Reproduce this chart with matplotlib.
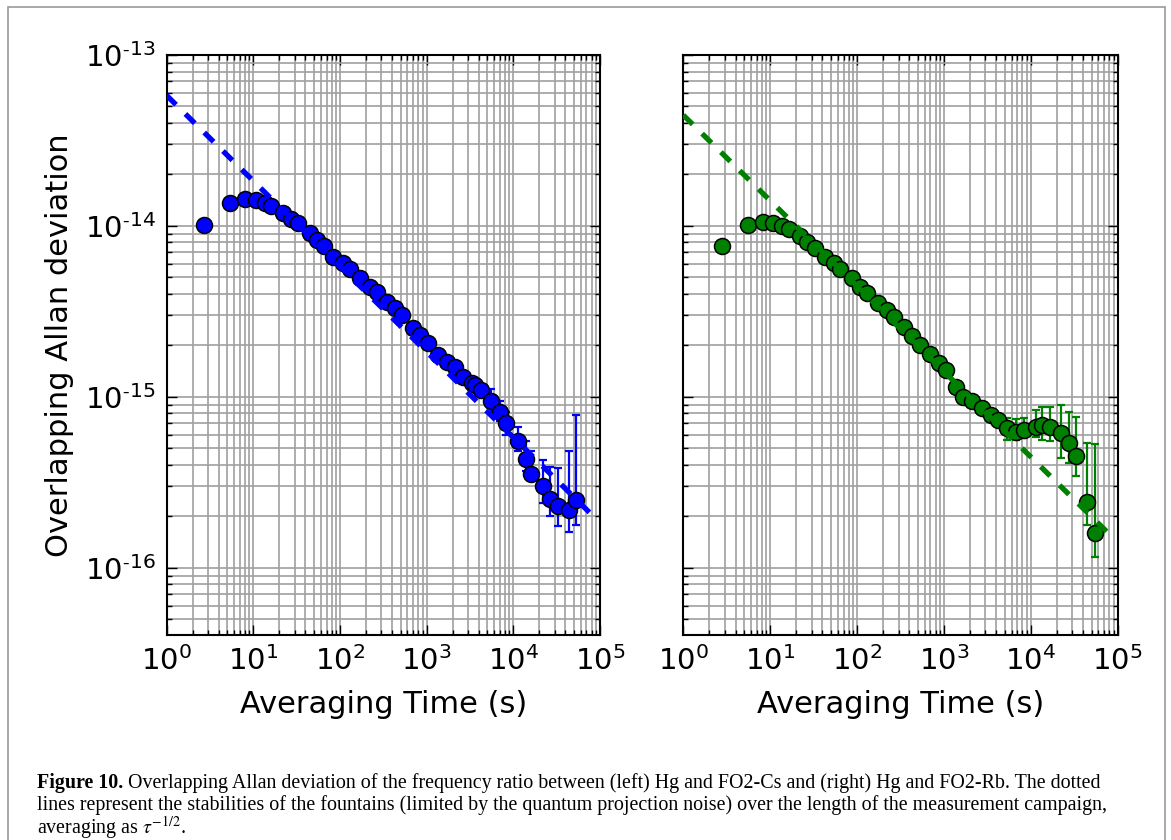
import matplotlib
matplotlib.use("Agg")
import numpy as np
import matplotlib.pyplot as plt
import matplotlib.ticker as mticker
from matplotlib.patches import Rectangle

# Left panel: Hg / FO2-Cs
tau_cs = [2.7, 5.4, 8.1, 10.8, 13.5, 16.2, 22, 27, 33, 45, 54, 65, 83, 108, 130, 170,
          220, 265, 345, 430, 515, 700, 835, 1040, 1350, 1700, 2100, 2630, 3300, 3600,
          4300, 5600, 6990, 8350, 11200, 13900, 16200, 22100, 26400, 32900, 44000, 53600]
adev_cs = [1.01e-14, 1.37e-14, 1.43e-14, 1.42e-14, 1.37e-14, 1.31e-14, 1.19e-14, 1.10e-14,
           1.04e-14, 9.1e-15, 8.3e-15, 7.6e-15, 6.6e-15, 6.05e-15, 5.6e-15, 4.95e-15,
           4.4e-15, 4.1e-15, 3.6e-15, 3.3e-15, 3.0e-15, 2.52e-15, 2.3e-15, 2.06e-15,
           1.76e-15, 1.61e-15, 1.50e-15, 1.31e-15, 1.20e-15, 1.175e-15, 1.10e-15, 9.4e-16,
           8.2e-16, 7.0e-16, 5.5e-16, 4.33e-16, 3.55e-16, 2.99e-16, 2.52e-16, 2.29e-16,
           2.18e-16, 2.48e-16]
# error bar bounds for the long-tau points
err_tau_cs = [5600, 6990, 8350, 11200, 13900, 16200, 22100, 26400, 32900, 44000, 53600]
err_hi_cs = [1.11e-15, 9.4e-16, 8.2e-16, 6.65e-16, 5.53e-16, 4.79e-16, 4.28e-16, 3.88e-16,
             3.86e-16, 4.79e-16, 7.85e-16]
err_lo_cs = [8.0e-16, 7.2e-16, 6.0e-16, 4.83e-16, 3.7e-16, 3.27e-16, 2.39e-16, 2.0e-16,
             1.76e-16, 1.61e-16, 1.77e-16]
qpn_cs = 5.8e-14

# Right panel: Hg / FO2-Rb
tau_rb = [2.8, 5.5, 8.2, 10.9, 13.6, 16.3, 22, 26.5, 33, 43, 54, 64, 87, 109, 130, 173,
          222, 265, 345, 430, 527, 688, 873, 1070, 1360, 1670, 2120, 2770, 3440, 4200,
          5370, 6700, 8350, 11400, 13600, 16600, 22100, 27600, 33000, 44200, 54600]
adev_rb = [7.6e-15, 1.01e-14, 1.06e-14, 1.04e-14, 1.0e-14, 9.6e-15, 8.75e-15, 8.0e-15,
           7.4e-15, 6.6e-15, 6.05e-15, 5.6e-15, 4.95e-15, 4.4e-15, 4.05e-15, 3.53e-15,
           3.23e-15, 2.95e-15, 2.56e-15, 2.28e-15, 2.01e-15, 1.78e-15, 1.57e-15, 1.43e-15,
           1.14e-15, 1.0e-15, 9.4e-16, 8.6e-16, 7.85e-16, 7.3e-16, 6.55e-16, 6.25e-16,
           6.4e-16, 6.7e-16, 6.85e-16, 6.65e-16, 6.18e-16, 5.36e-16, 4.48e-16, 2.41e-16,
           1.6e-16]
err_tau_rb = [5370, 6700, 8350, 11400, 13600, 16600, 22100, 27600, 33000, 44200, 54600]
err_hi_rb = [7.5e-16, 7.4e-16, 7.5e-16, 8.4e-16, 8.77e-16, 8.74e-16, 8.97e-16, 8.2e-16,
             7.67e-16, 5.36e-16, 5.28e-16]
err_lo_rb = [5.6e-16, 5.6e-16, 5.75e-16, 5.86e-16, 5.6e-16, 5.48e-16, 4.4e-16, 4.1e-16,
             3.45e-16, 1.78e-16, 1.16e-16]
qpn_rb = 4.45e-14

line_tau = [1.0, 7.6e4]
x_major = [1e0, 1e1, 1e2, 1e3, 1e4, 1e5]
y_major = [1e-16, 1e-15, 1e-14, 1e-13]

plt.rcParams['mathtext.fontset'] = 'stix'


def fmt_log(v, pos):
    e = int(round(np.log10(v)))
    if e < 0:
        return r'$\mathregular{10^{\text{-}%d}}$' % (-e)
    return r'$\mathregular{10^{%d}}$' % e


fig = plt.figure(figsize=(11.71, 8.40), dpi=100)
ax1 = fig.add_axes([0.1423, 0.2440, 0.3700, 0.6905])
ax2 = fig.add_axes([0.5835, 0.2440, 0.3710, 0.6905])

panels = [
    (ax1, tau_cs, adev_cs, err_tau_cs, err_lo_cs, err_hi_cs, qpn_cs, 'blue'),
    (ax2, tau_rb, adev_rb, err_tau_rb, err_lo_rb, err_hi_rb, qpn_rb, 'green'),
]

for ax, tau, adev, etau, elo, ehi, qpn, col in panels:
    ax.set_xscale('log')
    ax.set_yscale('log')
    ax.set_xlim(1, 1e5)
    ax.set_ylim(4.04e-17, 1e-13)

    centre = dict(zip(tau, adev))
    yc = [centre[t] for t in etau]
    lower = [c - l for c, l in zip(yc, elo)]
    upper = [h - c for c, h in zip(yc, ehi)]
    ax.errorbar(etau, yc, yerr=[lower, upper], fmt='none', ecolor=col,
                elinewidth=1.6, capsize=2.8, capthick=1.6, zorder=3)
    ax.plot(tau, adev, 'o', color=col, markersize=11.5, markeredgecolor='black',
            markeredgewidth=1.1, zorder=4)
    ax.plot(line_tau, [qpn / np.sqrt(t) for t in line_tau], color=col, lw=3.8,
            dashes=(2.5, 2.5), zorder=5)

    ax.grid(True, which='both', color='#a0a0a0', lw=1.2, zorder=0)
    ax.set_axisbelow(True)
    ax.xaxis.set_major_locator(mticker.FixedLocator(x_major))
    ax.yaxis.set_major_locator(mticker.FixedLocator(y_major))
    for axis in (ax.xaxis, ax.yaxis):
        axis.set_minor_locator(mticker.LogLocator(base=10, subs=np.arange(2, 10), numticks=20))
        axis.set_major_formatter(mticker.FuncFormatter(fmt_log))
        axis.set_minor_formatter(mticker.NullFormatter())
    ax.tick_params(which='both', direction='in', top=True, right=True, width=1.0)
    ax.tick_params(which='major', length=7, labelsize=21, pad=8)
    ax.tick_params(which='minor', length=3.5)
    for s in ax.spines.values():
        s.set_linewidth(1.5)
    ax.set_xlabel('Averaging Time (s)', fontsize=22, labelpad=10)

ax1.set_ylabel('Overlapping Allan deviation', fontsize=22, labelpad=8)
ax2.tick_params(labelleft=False)

# gray frame around figure
fig.patches.append(Rectangle((8 / 1171, -0.02), (1165 - 8) / 1171, 1 - 7 / 840 + 0.02,
                             transform=fig.transFigure, fill=False, edgecolor='#999999',
                             lw=1.2))

# caption
cap_font = 'Liberation Serif'
cap_size = 14.4
x0 = 37 / 1171
r = fig.canvas.get_renderer()
t1 = fig.text(x0, 1 - 783 / 840, 'Figure 10.', family=cap_font, weight='bold',
              fontsize=cap_size, va='center')
bb = t1.get_window_extent(renderer=r)
fig.text(bb.x1 / 1171 + 0.004, 1 - 783 / 840,
         'Overlapping Allan deviation of the frequency ratio between (left) Hg and FO2-Cs '
         'and (right) Hg and FO2-Rb. The dotted',
         family=cap_font, fontsize=cap_size, va='center')
fig.text(x0, 1 - 805 / 840,
         'lines represent the stabilities of the fountains (limited by the quantum projection '
         'noise) over the length of the measurement campaign,',
         family=cap_font, fontsize=cap_size, va='center')
fig.text(x0, 1 - 828 / 840, r'averaging as $\tau^{-1/2}$.', family=cap_font,
         fontsize=cap_size, va='center')

fig.savefig('out.png', dpi=100)
